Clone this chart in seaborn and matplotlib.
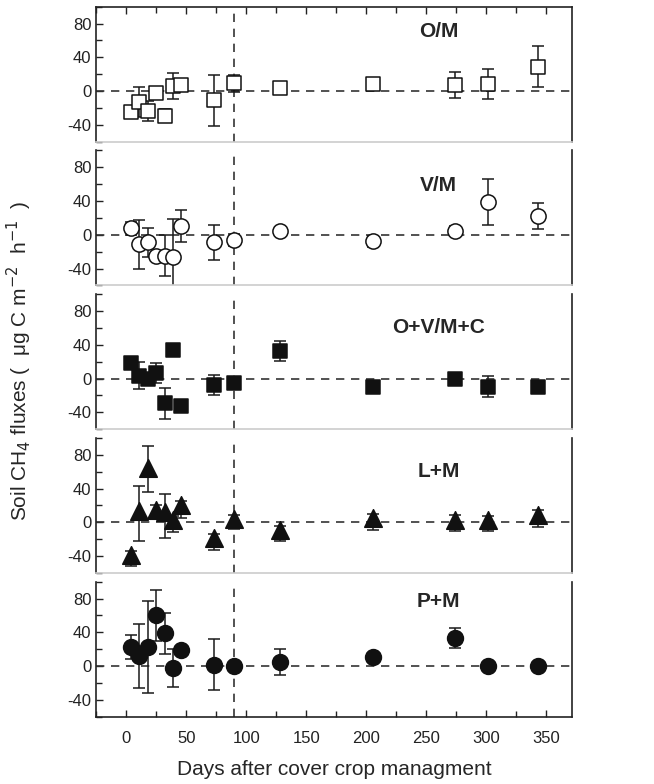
import seaborn as sns
import matplotlib.pyplot as plt
from matplotlib.ticker import MultipleLocator
import pandas as pd

days = [4, 11, 18, 25, 32, 39, 46, 73, 90, 128, 206, 274, 301, 343]

om_flux = [-25, -13, -24, -2, -29, 6, 7, -11, 9, 4, 8, 7, 8, 29]
om_err = [5, 18, 12, 5, 8, 15, 5, 30, 10, 6, 6, 15, 18, 24]

vm_flux = [7.5, -11, -9, -25.6, -24.8, -26.8, 10.6, -9, -6.3, 4.7, -7.9, 4.3, 39, 22.4]
vm_err = [8, 29, 17, 5, 24, 46, 19, 21, 7, 5, 6, 6, 27.5, 15]

ovmc_flux = [18.3, 3.6, -0.8, 6.4, -29.5, 33.5, -32, -7.6, -4.8, 32.3, -9.6, -0.8, -9.6, -9.6]
ovmc_err = [3, 16, 5, 12, 18, 3, 3, 12, 3, 12, 3, 3, 12.5, 3]

# L+M: upper whiskers mostly hidden by the triangles, so lower/upper are read separately
lm_flux = [-38.6, 13, 64, 15, 12, 2.4, 20, -18.7, 4, -9.6, 5.2, 3.2, 2.4, 9.2]
lm_err_low = [13, 35, 28, 6, 30, 14, 15, 14, 12, 13, 14, 14, 13, 15]
lm_err_high = [5, 30, 27, 5, 22, 5, 5, 5, 5, 5, 5, 5, 5, 5]

pm_flux = [22.6, 12.3, 22.6, 60, 39, -2.4, 18.6, 1.6, -0.4, 4.8, 10.7, 33.3, -0.4, 0.5]
pm_err = [14, 38, 54, 30, 24.5, 22.5, 3, 30, 3, 15, 5, 11.5, 3, 3]

treatments = ['O/M', 'V/M', 'O+V/M+C', 'L+M', 'P+M']
fluxes = [om_flux, vm_flux, ovmc_flux, lm_flux, pm_flux]
errors = [om_err, vm_err, ovmc_err, [lm_err_low, lm_err_high], pm_err]
markers = ['s', 'o', 's', '^', 'o']
sizes = [115, 120, 115, 160, 130]
filled = [False, False, True, True, True]
label_y = [71, 58, 60, 60, 77]

sns.set_style('ticks')
plt.rcParams['font.family'] = ['Liberation Sans', 'DejaVu Sans']
plt.rcParams['axes.unicode_minus'] = False

fig, axes = plt.subplots(5, 1, figsize=(6.54, 7.84), dpi=100, sharex=True)
plt.subplots_adjust(left=0.147, right=0.874, top=0.9915, bottom=0.0858, hspace=0.065)

for i, ax in enumerate(axes):
    df = pd.DataFrame({'Day': days, 'Flux': fluxes[i]})
    ax.errorbar(df['Day'], df['Flux'], yerr=errors[i], fmt='none', ecolor='#1a1a1a',
                elinewidth=1.1, capsize=4, capthick=1.1, zorder=2)
    face = '#111111' if filled[i] else 'white'
    sns.scatterplot(data=df, x='Day', y='Flux', ax=ax, marker=markers[i], s=sizes[i],
                    color=face, edgecolor='#111111', linewidth=1.1, zorder=3, legend=False)
    ax.axhline(0, color='#333333', lw=1.2, ls=(0, (5, 4)), zorder=1)
    ax.axvline(90, color='#333333', lw=1.2, ls=(0, (5, 4)), zorder=1)
    ax.text(260, label_y[i], treatments[i], fontsize=15, fontweight='bold', ha='center', va='center')

    ax.set_xlim(-25, 371)
    ax.set_ylim(-60, 100)
    ax.set_yticks([-40, 0, 40, 80])
    ax.yaxis.set_minor_locator(MultipleLocator(20))
    ax.xaxis.set_major_locator(MultipleLocator(50))
    ax.xaxis.set_minor_locator(MultipleLocator(25))
    ax.tick_params(axis='both', which='both', direction='in', labelsize=12, width=1, colors='#222222')
    ax.tick_params(axis='both', which='major', length=5)
    ax.tick_params(axis='both', which='minor', length=4)
    ax.tick_params(axis='x', which='both', top=(i == 0), bottom=(i == 4), pad=10)
    ax.set_xlabel('')
    ax.set_ylabel('')
    for side in ['left', 'right', 'top', 'bottom']:
        ax.spines[side].set_visible(True)
        ax.spines[side].set_linewidth(1.2)
        ax.spines[side].set_color('#222222')
    if i > 0:
        ax.spines['top'].set_visible(False)
    if i < 4:
        ax.spines['bottom'].set_color('#cccccc')

axes[-1].set_xlabel('Days after cover crop managment', fontsize=15, labelpad=10)
fig.text(0.03, 0.54, 'Soil CH$_4$ fluxes (  \u03bcg C m$^{-2}$  h$^{-1}$  )', rotation=90,
         fontsize=15, ha='center', va='center')

plt.savefig('out.png', dpi=100)
